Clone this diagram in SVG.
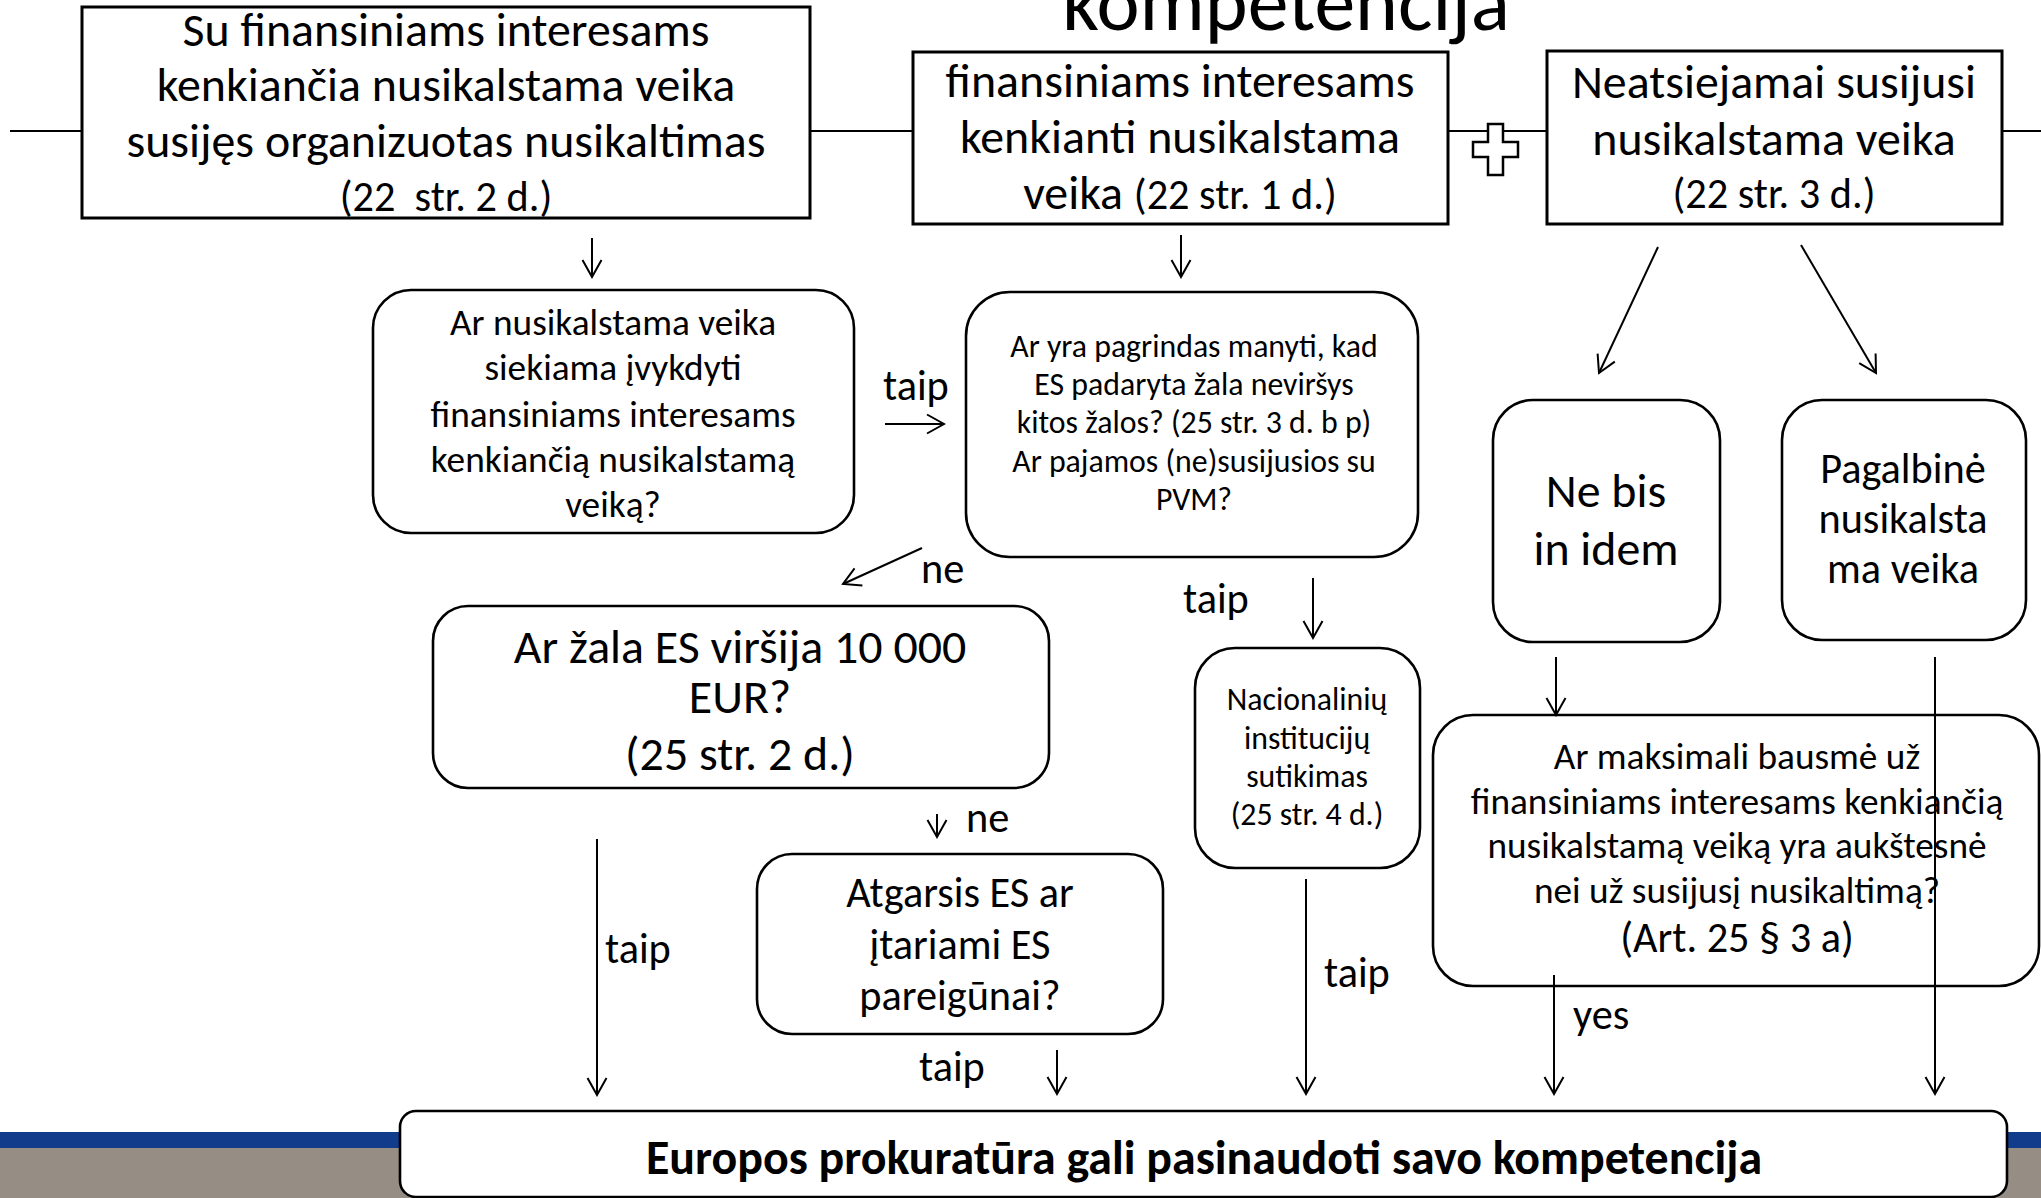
<svg xmlns="http://www.w3.org/2000/svg" width="2041" height="1198" viewBox="0 0 2041 1198">
<style>
  .t { font-family: Calibri, Carlito, Lato, "Liberation Sans", sans-serif; fill: #000; text-anchor: middle; }
  .l { font-family: Calibri, Carlito, Lato, "Liberation Sans", sans-serif; fill: #000; }
  .f47 { font-size: 47.9px; }
  .f42 { font-size: 42.3px; }
  .f37 { font-size: 37.3px; }
  .f31 { font-size: 31.8px; }
  .box { fill: #fff; stroke: #000; stroke-width: 3; }
  .rbox { fill: #fff; stroke: #000; stroke-width: 2.6; }
  .c { fill: none; stroke: #000; stroke-width: 2; }
  .a { fill: none; stroke: #000; stroke-width: 2; marker-end: url(#ah); }
</style>
<defs>
  <marker id="ah" viewBox="-20 -12 22 24" refX="0" refY="0" markerWidth="22" markerHeight="24" markerUnits="userSpaceOnUse" orient="auto">
    <path d="M-17,-9.5 L0,0 L-17,9.5" fill="none" stroke="#000" stroke-width="2"/>
  </marker>
</defs>
<rect width="2041" height="1198" fill="#fff"/>
<g id="band">
  <rect x="0" y="1132" width="2041" height="16" fill="#113C8B"/>
  <rect x="0" y="1148" width="2041" height="50" fill="#968D84"/>
</g>
<g id="title">
  <text class="t" x="1286" y="30" style="font-size:81.7px">kompetencija</text>
</g>
<g id="n1">
  <rect class="box" x="82" y="7" width="728" height="211"/>
  <text class="t f47" x="446" y="46">Su finansiniams interesams</text>
  <text class="t f47" x="446" y="101">kenkiančia nusikalstama veika</text>
  <text class="t f47" x="446" y="157">susijęs organizuotas nusikaltimas</text>
  <text class="t f42" x="446" y="211" style="white-space:pre">(22  str. 2 d.)</text>
</g>
<g id="n2">
  <rect class="box" x="913" y="52" width="535" height="172"/>
  <text class="t f47" x="1180" y="97">finansiniams interesams</text>
  <text class="t f47" x="1180" y="153">kenkianti nusikalstama</text>
  <text class="t" x="1180" y="209"><tspan class="f47">veika </tspan><tspan class="f42">(22 str. 1 d.)</tspan></text>
</g>
<g id="n3">
  <rect class="box" x="1547" y="51" width="455" height="173"/>
  <text class="t f47" x="1774" y="98">Neatsiejamai susijusi</text>
  <text class="t f47" x="1774" y="155">nusikalstama veika</text>
  <text class="t f42" x="1774" y="208">(22 str. 3 d.)</text>
</g>
<g id="n4">
  <rect class="rbox" x="373" y="290" width="481" height="243" rx="38"/>
  <text class="t f37" x="613" y="335">Ar nusikalstama veika</text>
  <text class="t f37" x="613" y="380">siekiama įvykdyti</text>
  <text class="t f37" x="613" y="427">finansiniams interesams</text>
  <text class="t f37" x="613" y="472">kenkiančią nusikalstamą</text>
  <text class="t f37" x="613" y="517">veiką?</text>
</g>
<g id="n5">
  <rect class="rbox" x="966" y="292" width="452" height="265" rx="44"/>
  <text class="t f31" x="1194" y="357">Ar yra pagrindas manyti, kad</text>
  <text class="t f31" x="1194" y="395">ES padaryta žala neviršys</text>
  <text class="t f31" x="1194" y="433">kitos žalos? (25 str. 3 d. b p)</text>
  <text class="t f31" x="1194" y="472">Ar pajamos (ne)susijusios su</text>
  <text class="t f31" x="1194" y="510">PVM?</text>
</g>
<g id="n6">
  <rect class="rbox" x="433" y="606" width="616" height="182" rx="35"/>
  <text class="t f47" x="740" y="663">Ar žala ES viršija 10 000</text>
  <text class="t f47" x="740" y="713">EUR?</text>
  <text class="t f47" x="740" y="770">(25 str. 2 d.)</text>
</g>
<g id="n7">
  <rect class="rbox" x="757" y="854" width="406" height="180" rx="35"/>
  <text class="t f42" x="960" y="907">Atgarsis ES ar</text>
  <text class="t f42" x="960" y="959">įtariami ES</text>
  <text class="t f42" x="960" y="1010">pareigūnai?</text>
</g>
<g id="n8">
  <rect class="rbox" x="1195" y="648" width="225" height="220" rx="40"/>
  <text class="t f31" x="1307" y="710">Nacionalinių</text>
  <text class="t f31" x="1307" y="749">institucijų</text>
  <text class="t f31" x="1307" y="787">sutikimas</text>
  <text class="t f31" x="1307" y="825">(25 str. 4 d.)</text>
</g>
<g id="n9">
  <rect class="rbox" x="1493" y="400" width="227" height="242" rx="40"/>
  <text class="t f47" x="1606" y="507">Ne bis</text>
  <text class="t f47" x="1606" y="565">in idem</text>
</g>
<g id="n10">
  <rect class="rbox" x="1782" y="400" width="244" height="240" rx="40"/>
  <text class="t f42" x="1903" y="483">Pagalbinė</text>
  <text class="t f42" x="1903" y="533">nusikalsta</text>
  <text class="t f42" x="1903" y="583">ma veika</text>
</g>
<g id="n11">
  <rect class="rbox" x="1433" y="715" width="606" height="271" rx="40"/>
  <text class="t f37" x="1737" y="769">Ar maksimali bausmė už</text>
  <text class="t f37" x="1737" y="814">finansiniams interesams kenkiančią</text>
  <text class="t f37" x="1737" y="858">nusikalstamą veiką yra aukštesnė</text>
  <text class="t f37" x="1737" y="903">nei už susijusį nusikaltimą?</text>
  <text class="t f42" x="1737" y="952">(Art. 25 § 3 a)</text>
</g>
<g id="n12">
  <rect class="rbox" x="400" y="1111" width="1607" height="86" rx="16"/>
  <text class="t" x="1204" y="1174" style="font-size:47.9px;font-weight:bold">Europos prokuratūra gali pasinaudoti savo kompetencija</text>
</g>
<g id="connectors">
  <line class="c" x1="10" y1="131" x2="82" y2="131"/>
  <line class="c" x1="810" y1="131" x2="913" y2="131"/>
  <line class="c" x1="1448" y1="131" x2="1547" y2="131"/>
  <line class="c" x1="2002" y1="131" x2="2041" y2="131"/>
  <line class="a" x1="592" y1="238" x2="592" y2="277"/>
  <line class="a" x1="1181" y1="235" x2="1181" y2="277"/>
  <line class="a" x1="885" y1="424" x2="944" y2="424"/>
  <line class="a" x1="922" y1="548" x2="843" y2="584"/>
  <line class="a" x1="1658" y1="247" x2="1599" y2="373"/>
  <line class="a" x1="1801" y1="245" x2="1876" y2="373"/>
  <line class="a" x1="1313" y1="578" x2="1313" y2="638"/>
  <line class="a" x1="937" y1="814" x2="937" y2="837"/>
  <line class="a" x1="597" y1="839" x2="597" y2="1095"/>
  <line class="a" x1="1057" y1="1050" x2="1057" y2="1094"/>
  <line class="a" x1="1306" y1="879" x2="1306" y2="1094"/>
  <line class="a" x1="1556" y1="657" x2="1556" y2="715"/>
  <line class="a" x1="1554" y1="975" x2="1554" y2="1094"/>
  <line class="a" x1="1935" y1="657" x2="1935" y2="1094"/>
  <text class="l f42" x="883" y="400">taip</text>
  <text class="l f42" x="921" y="583">ne</text>
  <text class="l f42" x="966" y="832">ne</text>
  <text class="l f42" x="605" y="963">taip</text>
  <text class="l f42" x="919" y="1081">taip</text>
  <text class="l f42" x="1183" y="613">taip</text>
  <text class="l f42" x="1324" y="987">taip</text>
  <text class="l f42" x="1573" y="1029">yes</text>
</g>
<g id="plus">
  <path d="M1488,124 H1503 V142 H1518 V157 H1503 V175 H1488 V157 H1473 V142 H1488 Z" fill="#fff" stroke="#000" stroke-width="2.5"/>
</g>
</svg>
